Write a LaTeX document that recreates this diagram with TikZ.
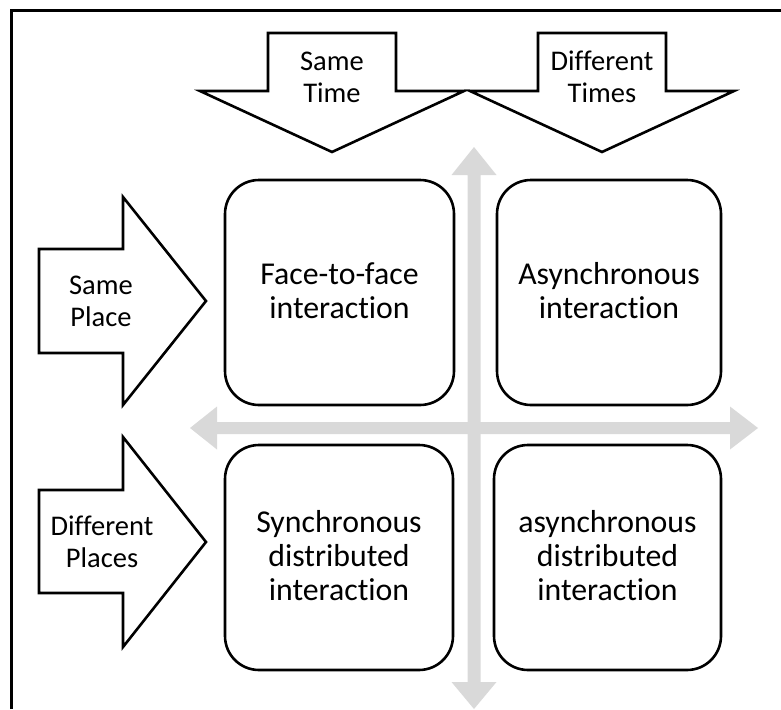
\documentclass[tikz,border=0pt]{standalone}
\usepackage{fontspec}
\setmainfont{Carlito}[RawFeature={-liga}]
\begin{document}
\begin{tikzpicture}[x=1pt,y=-1pt,
  outl/.style={draw=black,line width=2.6pt,line join=miter,fill=white},
  quad/.style={draw=black,line width=2.6pt,rounded corners=34pt,fill=white},
  boxtext/.style={align=center,font=\fontsize{31.8}{34}\selectfont,inner sep=0pt},
  arrtext/.style={align=center,font=\fontsize{28.5}{32}\selectfont,inner sep=0pt},
  graycross/.style={fill=black!15,draw=none}]
\useasboundingbox (0,0) rectangle (781,709);
% frame (cropped)
\draw[line width=3pt] (11.5,709) -- (11.5,11) -- (781,11);
% gray cross
\fill[graycross] (190,428) -- (217,406.5) -- (217,422) -- (730,422) -- (730,406.5) -- (758,428)
  -- (730,449.5) -- (730,434) -- (217,434) -- (217,449.5) -- cycle;
\fill[graycross] (474,147) -- (496.5,175) -- (480.5,175) -- (480.5,682) -- (496.5,682) -- (474,709)
  -- (451.5,682) -- (467.5,682) -- (467.5,175) -- (451.5,175) -- cycle;
% quadrant boxes
\draw[quad] (225,180) rectangle (454,405);
\draw[quad] (497,180) rectangle (721,405);
\draw[quad] (225,445) rectangle (453,670);
\draw[quad] (494,445) rectangle (721,670);
\node[boxtext] (ftf) at (339.5,291) {Face-to-face\\interaction};
\node[boxtext] (async) at (609,291) {Asynchronous\\interaction};
\node[boxtext] (sdi) at (339,556) {Synchronous\\distributed\\interaction};
\node[boxtext] (adi) at (607.5,556) {asynchronous\\distributed\\interaction};
% top down-arrows
\draw[outl] (268,33) -- (396,33) -- (396,91) -- (464,91) -- (332,152) -- (200,91) -- (268,91) -- cycle;
\draw[outl] (538,33) -- (666,33) -- (666,91) -- (734,91) -- (602,152) -- (470,91) -- (538,91) -- cycle;
\node[arrtext] (st) at (332,77) {Same\\Time};
\node[arrtext] (dt) at (602,77) {Different\\Times};
% left right-arrows
\draw[outl] (39,249) -- (123,249) -- (123,197) -- (206,301) -- (123,405) -- (123,353) -- (39,353) -- cycle;
\draw[outl] (39,490) -- (123,490) -- (123,437) -- (206,542) -- (123,647) -- (123,593) -- (39,593) -- cycle;
\node[arrtext] (sp) at (101,301) {Same\\Place};
\node[arrtext] (dp) at (102,542) {Different\\Places};
\end{tikzpicture}
\end{document}
